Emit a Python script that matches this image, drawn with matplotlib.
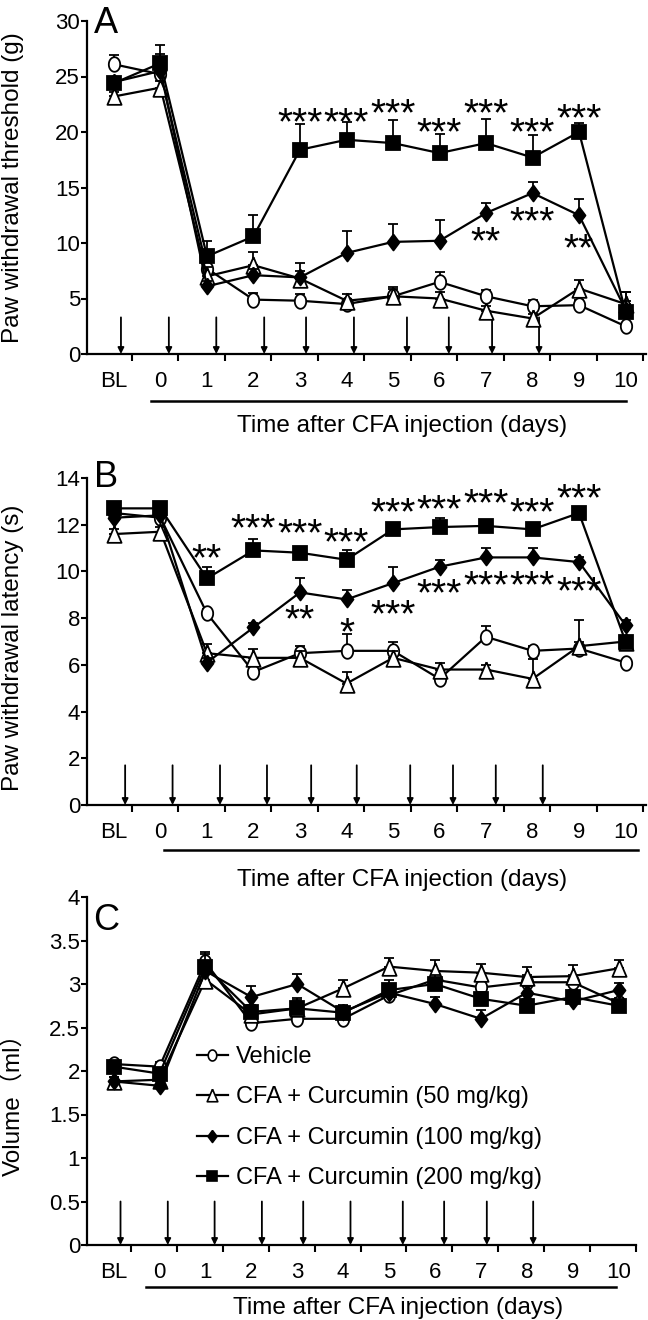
import numpy as np
import matplotlib
matplotlib.use("Agg")
import matplotlib.pyplot as plt
from matplotlib.lines import Line2D

plt.rcParams['font.family'] = ['Liberation Sans', 'Noto Sans CJK SC', 'DejaVu Sans']

# ---------------- data ----------------
days = ["BL", "0", "1", "2", "3", "4", "5", "6", "7", "8", "9", "10"]
series_names = ["Vehicle", "CFA + Curcumin (50 mg/kg)",
                "CFA + Curcumin (100 mg/kg)", "CFA + Curcumin (200 mg/kg)"]

# Panel A: paw withdrawal threshold (g)
a_vehicle = [26.1, 25.2, 7.7, 4.9, 4.8, 4.5, 5.2, 6.5, 5.2, 4.3, 4.4, 2.5]
a_vehicle_err = [0.8, 1.8, 0.6, 0.6, 0.6, 0.5, 0.8, 0.9, 0.6, 0.6, 0.5, 0.2]
a_cur50 = [23.2, 24.0, 7.0, 8.0, 6.8, 4.8, 5.2, 5.0, 3.9, 3.2, 5.9, 4.5]
a_cur50_err = [0.4, 0.6, 0.8, 1.2, 1.4, 0.6, 0.7, 0.6, 0.4, 0.4, 0.8, 1.1]
a_cur100 = [24.5, 25.5, 6.1, 7.1, 6.9, 9.1, 10.1, 10.2, 12.7, 14.5, 12.5, 4.0]
a_cur100_err = [0.5, 1.0, 0.5, 0.6, 0.6, 2.0, 1.6, 1.9, 0.9, 1.0, 1.5, 0.8]
a_cur200 = [24.4, 26.2, 8.8, 10.6, 18.4, 19.3, 19.0, 18.1, 19.0, 17.7, 20.0, 3.8]
a_cur200_err = [0.5, 1.6, 1.4, 1.9, 2.3, 1.6, 2.1, 1.7, 2.2, 2.0, 0.8, 1.8]

# Panel B: paw withdrawal latency (s)
b_vehicle = [12.5, 12.3, 8.2, 5.7, 6.5, 6.6, 6.6, 5.4, 7.2, 6.6, 6.7, 6.1]
b_vehicle_err = [0.2, 0.2, 0.2, 0.2, 0.3, 0.7, 0.4, 0.2, 0.45, 0.2, 0.3, 0.1]
b_cur50 = [11.6, 11.7, 6.5, 6.3, 6.3, 5.2, 6.3, 5.8, 5.8, 5.4, 6.8, 7.0]
b_cur50_err = [0.2, 0.2, 0.4, 0.4, 0.3, 0.5, 0.3, 0.3, 0.2, 0.85, 1.1, 0.2]
b_cur100 = [12.3, 12.4, 6.1, 7.6, 9.1, 8.8, 9.5, 10.2, 10.6, 10.6, 10.4, 7.7]
b_cur100_err = [0.2, 0.2, 0.2, 0.2, 0.6, 0.4, 0.7, 0.3, 0.4, 0.4, 0.2, 0.2]
b_cur200 = [12.7, 12.7, 9.7, 10.9, 10.8, 10.5, 11.8, 11.9, 11.95, 11.8, 12.5, 7.0]
b_cur200_err = [0.2, 0.2, 0.5, 0.5, 0.2, 0.4, 0.2, 0.4, 0.2, 0.2, 0.2, 0.2]

# Panel C: paw volume (ml)
c_vehicle = [2.08, 2.05, 3.25, 2.55, 2.60, 2.60, 2.87, 3.05, 2.96, 3.02, 3.02, 2.78]
c_vehicle_err = [0.05, 0.05, 0.12, 0.05, 0.05, 0.05, 0.06, 0.1, 0.08, 0.08, 0.08, 0.06]
c_cur50 = [1.88, 1.90, 3.05, 2.65, 2.72, 2.95, 3.20, 3.15, 3.13, 3.08, 3.09, 3.18]
c_cur50_err = [0.05, 0.05, 0.08, 0.06, 0.1, 0.1, 0.1, 0.13, 0.1, 0.12, 0.13, 0.1]
c_cur100 = [1.88, 1.83, 3.15, 2.85, 3.00, 2.68, 2.90, 2.77, 2.60, 2.90, 2.80, 2.93]
c_cur100_err = [0.05, 0.05, 0.1, 0.13, 0.12, 0.08, 0.08, 0.08, 0.1, 0.08, 0.06, 0.08]
c_cur200 = [2.05, 1.97, 3.20, 2.68, 2.72, 2.67, 2.93, 3.00, 2.83, 2.75, 2.85, 2.75]
c_cur200_err = [0.05, 0.05, 0.15, 0.08, 0.12, 0.08, 0.12, 0.1, 0.08, 0.08, 0.08, 0.06]

# significance marks: (day label, mark, y of mark centre)
a_stars = [("3", "***", 21.8), ("4", "***", 21.8), ("5", "***", 22.6), ("6", "***", 20.9),
           ("7", "***", 22.6), ("8", "***", 20.9), ("9", "***", 22.2),
           ("7", "**", 11.1), ("8", "***", 12.9), ("9", "**", 10.5)]
b_stars = [("1", "**", 11.0), ("2", "***", 12.3), ("3", "***", 12.1), ("4", "***", 11.7),
           ("5", "***", 13.0), ("6", "***", 13.1), ("7", "***", 13.35), ("8", "***", 13.0),
           ("9", "***", 13.6),
           ("3", "**", 8.4), ("4", "*", 7.85), ("5", "***", 8.6), ("6", "***", 9.5),
           ("7", "***", 9.85), ("8", "***", 9.85), ("9", "***", 9.6)]

# curcumin administration arrows (x in day-slot units)
arrow_x_ac = [0.15, 1.18, 2.2, 3.23, 4.13, 5.16, 6.3, 7.2, 8.13, 9.14]
arrow_x_b = [0.24, 1.26, 2.28, 3.29, 4.24, 5.22, 6.37, 7.29, 8.21, 9.22]

# ---------------- styling ----------------
t = np.linspace(0, 2 * np.pi, 60)
ellipse = list(zip(0.78 * np.cos(t), np.sin(t)))
tri = [(0, 1), (-0.85, -1), (0.85, -1), (0, 1)]
diamond = [(0, 1), (0.75, 0), (0, -1), (-0.75, 0), (0, 1)]
styles = [
    dict(marker=ellipse, ms=10.5, mfc='white'),
    dict(marker=tri, ms=12, mfc='white'),
    dict(marker=diamond, ms=11.5, mfc='black'),
    dict(marker='s', ms=9.5, mfc='black'),
]

W, H = 648, 1320
fig = plt.figure(figsize=(W / 100, H / 100), dpi=100)


def ax_rect(left, right, top, bottom):
    return [left / W, 1 - bottom / H, (right - left) / W, (bottom - top) / H]


x = np.arange(len(days))


def make_panel(rect, xmax, ylim, yticks, yticklabels, ylabel, ylab_y, letter,
               letter_dy, series, errs, stars, arrow_x, arrow_len, uline, title_y):
    ax = fig.add_axes(rect)
    for i, (vals, err) in enumerate(zip(series, errs)):
        st = styles[i]
        ax.errorbar(x, vals, yerr=[np.zeros(len(err)), err], fmt='none',
                    ecolor='black', elinewidth=1.3, capsize=3.5, capthick=1.3,
                    zorder=2 + i)
        ax.plot(x, vals, color='black', lw=1.6, marker=st['marker'],
                ms=st['ms'], mfc=st['mfc'], mec='black', mew=1.3,
                zorder=3 + i, clip_on=False)
    ax.set_xlim(-0.58, xmax)
    ax.set_ylim(*ylim)
    ax.set_yticks(yticks)
    ax.set_yticklabels(yticklabels)
    ax.set_xticks(x)
    ax.set_xticklabels(days)
    ax.set_xticks(x + 0.38, minor=True)
    ax.tick_params(axis='x', which='major', length=0, pad=12, labelsize=16)
    ax.tick_params(axis='x', which='minor', length=5, width=1.5, direction='out')
    ax.tick_params(axis='y', length=4, width=1.5, pad=1, labelsize=16)
    for s in ['top', 'right']:
        ax.spines[s].set_visible(False)
    for s in ['left', 'bottom']:
        ax.spines[s].set_linewidth(1.6)
    ax.set_ylabel(ylabel, fontsize=17.5)
    ax.yaxis.set_label_coords(-0.112, ylab_y)
    ax.annotate(letter, xy=(0.012, 1.0), xycoords='axes fraction',
                xytext=(0, letter_dy), textcoords='offset pixels',
                fontsize=26, ha='left', va='top')
    for day, lab, yy in stars:
        ax.annotate(lab, xy=(x[days.index(day)], yy), xytext=(0, -0.58 * 28),
                    textcoords='offset points', ha='center', va='baseline',
                    fontsize=28, zorder=10)
    for ax_x in arrow_x:
        ax.annotate('', xy=(ax_x, ylim[0]), xytext=(ax_x, ylim[0] + arrow_len),
                    arrowprops=dict(arrowstyle='-|>', lw=1.3, color='black',
                                    mutation_scale=9, shrinkA=0, shrinkB=0))
    ax.plot(uline[:2], [uline[2], uline[2]], color='black', lw=1.8,
            transform=ax.get_xaxis_transform(), clip_on=False)
    ax.text(6.2, title_y, "Time after CFA injection (days)", fontsize=17.5,
            ha='center', va='center', transform=ax.get_xaxis_transform())
    return ax


axA = make_panel(ax_rect(87, 646, 21, 354), 11.44, (0, 30), range(0, 31, 5),
                 [str(v) for v in range(0, 31, 5)],
                 "Paw withdrawal threshold (g)", 0.5, "A", 15,
                 [a_vehicle, a_cur50, a_cur100, a_cur200],
                 [a_vehicle_err, a_cur50_err, a_cur100_err, a_cur200_err],
                 a_stars, arrow_x_ac, 3.3, (0.8, 11.0, -0.141), -0.216)

axB = make_panel(ax_rect(87, 646, 478, 805), 11.44, (0, 14), range(0, 15, 2),
                 [str(v) for v in range(0, 15, 2)],
                 "Paw withdrawal latency (s)", 0.48, "B", 18,
                 [b_vehicle, b_cur50, b_cur100, b_cur200],
                 [b_vehicle_err, b_cur50_err, b_cur100_err, b_cur200_err],
                 b_stars, arrow_x_b, 1.7, (1.08, 11.27, -0.138), -0.229)

c_ticks = [0, 0.5, 1, 1.5, 2, 2.5, 3, 3.5, 4]
axC = make_panel(ax_rect(87, 636, 897, 1245), 11.23, (0, 4), c_ticks,
                 ["0", "0.5", "1", "1.5", "2", "2.5", "3", "3.5", "4"],
                 "Volume（ml）", 0.42, "C", -6,
                 [c_vehicle, c_cur50, c_cur100, c_cur200],
                 [c_vehicle_err, c_cur50_err, c_cur100_err, c_cur200_err],
                 [], arrow_x_ac, 0.5, (0.7, 10.95, -0.121), -0.181)

handles = [Line2D([], [], color='black', lw=1.6, marker=st['marker'],
                  ms=st['ms'] * 0.75, mfc=st['mfc'], mec='black', mew=1.2)
           for st in styles]
axC.legend(handles, series_names, loc='upper left',
           bbox_to_anchor=((197 - 87) / 549, (1245 - 1046) / 348),
           frameon=False, fontsize=17, handlelength=1.3, handletextpad=0.35,
           borderpad=0, borderaxespad=0, labelspacing=0.78)

fig.savefig("out.png", dpi=100)
